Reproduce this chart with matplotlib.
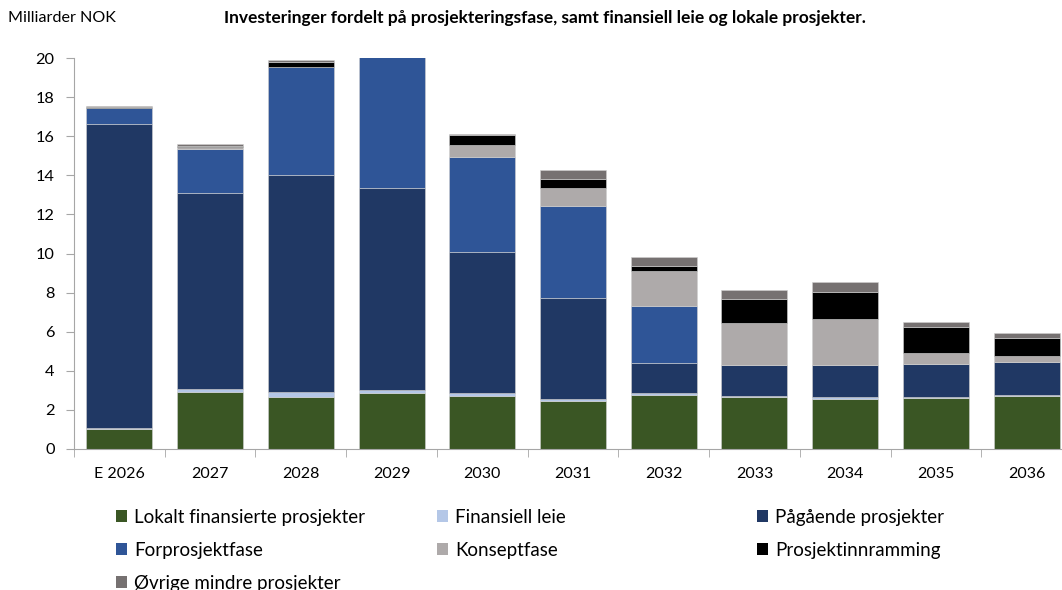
import numpy as np
import matplotlib
matplotlib.use("Agg")
from matplotlib import pyplot as plt
from matplotlib.patches import Patch

plt.rcParams['font.family'] = ['Lato', 'DejaVu Sans']

years = ['E 2026', '2027', '2028', '2029', '2030', '2031', '2032', '2033', '2034', '2035', '2036']

lokalt = [1.01, 2.90, 2.68, 2.85, 2.73, 2.46, 2.75, 2.66, 2.58, 2.63, 2.70]
leie = [0.08, 0.16, 0.22, 0.15, 0.15, 0.10, 0.10, 0.05, 0.07, 0.05, 0.06]
pagaende = [15.51, 10.06, 11.09, 10.33, 7.21, 5.17, 1.55, 1.58, 1.64, 1.69, 1.71]
forprosjekt = [0.86, 2.21, 5.55, 7.00, 4.83, 4.68, 2.92, 0.0, 0.0, 0.0, 0.0]
konsept = [0.0, 0.10, 0.0, 0.0, 0.61, 0.94, 1.78, 2.15, 2.35, 0.55, 0.28]
innramming = [0.03, 0.07, 0.26, 0.10, 0.51, 0.46, 0.25, 1.21, 1.41, 1.33, 0.92]
ovrige = [0.03, 0.10, 0.10, 0.10, 0.08, 0.46, 0.47, 0.46, 0.47, 0.24, 0.25]

series = [
    ('Lokalt finansierte prosjekter', lokalt, '#3a5624'),
    ('Finansiell leie', leie, '#b4c7e7'),
    ('Pågående prosjekter', pagaende, '#203864'),
    ('Forprosjektfase', forprosjekt, '#2f5597'),
    ('Konseptfase', konsept, '#aeaaaa'),
    ('Prosjektinnramming', innramming, '#000000'),
    ('Øvrige mindre prosjekter', ovrige, '#767171'),
]

fig = plt.figure(figsize=(10.62, 5.9), dpi=100)
ax = fig.add_axes([74 / 1062, 141 / 590, 998 / 1062, 391 / 590])

x = np.arange(len(years))
bottom = np.zeros(len(years))
for name, vals, col in series:
    vals = np.array(vals)
    ax.bar(x, vals, 0.727, bottom=bottom, color=col, edgecolor='#d0d0d0', linewidth=0.4)
    bottom += vals

ax.set_xlim(-0.5, len(years) - 0.5)
ax.set_ylim(0, 20)
ax.set_yticks(range(0, 21, 2))
ax.set_xticks(np.arange(len(years) + 1) - 0.5, minor=True)
ax.set_xticks(x)
ax.set_xticklabels(years)
ax.tick_params(axis='x', which='major', length=0, labelsize=11.5, pad=13)
ax.tick_params(axis='x', which='minor', length=6, color='#a6a6a6')
ax.tick_params(axis='y', length=6, color='#a6a6a6', labelsize=11.8, pad=8)
for s in ['top', 'right']:
    ax.spines[s].set_visible(False)
for s in ['left', 'bottom']:
    ax.spines[s].set_color('#a6a6a6')

fig.text(8 / 1062, 1 - 18 / 590, 'Milliarder NOK', fontsize=11.6, va='center', ha='left')
fig.text(545 / 1062, 1 - 18 / 590,
         'Investeringer fordelt på prosjekteringsfase, samt finansiell leie og lokale prosjekter.',
         fontsize=12.5, fontweight='bold', va='center', ha='center')

# legend in three columns, placed separately
cols = [[0, 3, 6], [1, 4], [2, 5]]
xs = [116, 437, 757]
for c, xpos in zip(cols, xs):
    handles = [Patch(facecolor=series[i][2], edgecolor='none') for i in c]
    labels = [series[i][0] for i in c]
    fig.legend(handles, labels, loc='upper left', bbox_to_anchor=(xpos / 1062, 1 - 509 / 590),
               frameon=False, fontsize=13.5, handlelength=0.6, handleheight=0.6,
               handletextpad=0.35, labelspacing=0.84, borderaxespad=0, borderpad=0)

fig.savefig('out.png', dpi=100)
